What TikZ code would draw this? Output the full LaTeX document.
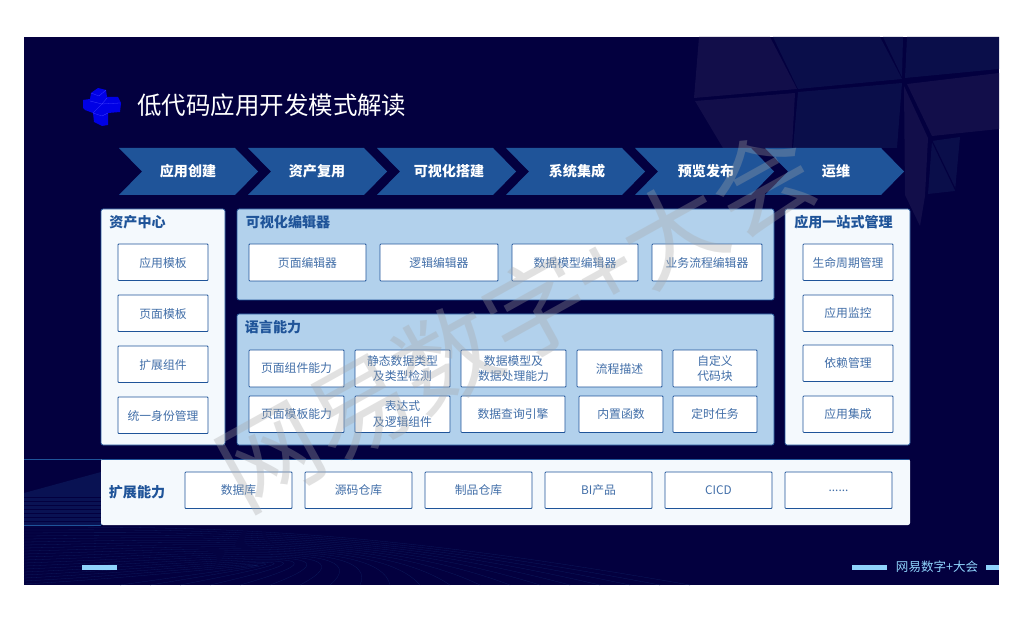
\documentclass[tikz,border=0pt]{standalone}
\usepackage{fontspec}
\setmainfont{Noto Sans CJK SC}
\usepackage{xcolor}
\definecolor{navybg}{HTML}{03003F}
\definecolor{chevblue}{HTML}{1F5499}
\definecolor{panelblue}{HTML}{B2D1EC}
\definecolor{panelwhite}{HTML}{F4F9FD}
\definecolor{linkblue}{HTML}{8FD3FB}
\definecolor{facet}{HTML}{120E4A}
\definecolor{facetb}{HTML}{0A0E4A}
\tikzset{
  chevron/.style={fill=chevblue,draw=none},
  chevtext/.style={text=white,font=\bfseries\fontsize{10}{12}\selectfont},
  panel/.style={fill=panelwhite,draw=chevblue,line width=0.5pt,rounded corners=1.5pt},
  bluepanel/.style={panel,fill=panelblue},
  itembox/.style={fill=white,draw=chevblue,line width=0.6pt,rounded corners=0.6pt},
  itemtext/.style={text=chevblue!85!white,align=center,font=\fontsize{8.4}{11}\selectfont},
  headtext/.style={text=chevblue,font=\bfseries\fontsize{10}{12}\selectfont},
  wave/.style={draw=chevblue!32!navybg,line width=0.2pt},
}
\begin{document}
\begin{tikzpicture}[x=0.025cm,y=-0.025cm]
\useasboundingbox (0,0) rectangle (1024,622);
\fill[white] (0,0) rectangle (1024,622);
\fill[navybg] (24,37) rectangle (999,585);
% faceted shape, top right
\fill[facet] (699,37)--(770,37)--(797,89)--(694,98)--cycle;
\fill[facetb] (773,37)--(880,37)--(902,79)--(798,89)--cycle;
\fill[facetb] (883,37)--(903,37)--(902,77)--cycle;
\fill[facetb] (907,37)--(999,37)--(999,69)--(905,78)--cycle;
\fill[facet] (695,101)--(795,93)--(792,148)--(723,148)--cycle;
\fill[facetb] (798,92)--(902,83)--(897,148)--(793,148)--cycle;
\fill[facet] (907,84)--(999,73)--(999,129)--(932,136)--cycle;
\fill[facet] (904,86)--(928,138)--(925,196)--(920,226)--(905,195)--cycle;
\fill[facetb] (932,141)--(960,137)--(955,191)--(928,194)--cycle;
\draw[navybg,line width=0.8pt] (932,141)--(957,193);
% mesh, lower left
\fill[chevblue!22!navybg] (24,493)--(101,472)--(101,525)--(24,525)--cycle;
\foreach \y in {497,501,...,523}{
  \draw[navybg,line width=0.4pt] (24,\y)--(101,\y);
}
\draw[chevblue] (24,459)--(101,459);
\draw[chevblue] (24,525)--(101,525);
\draw[chevblue] (101,459)--(101,525);
% waves, bottom
\foreach \k in {0,1,...,19}{
  \draw[wave] (24,{527+\k*3}) .. controls (200,{527+\k*2.5}) and ({360+\k*2},{527+\k}) .. ({690-\k*30},585);
}
% process row
\foreach \x/\n/\t/\c in {119/a/应用创建/188,248/b/资产复用/317,377/c/可视化搭建/449,506/d/系统集成/577,635/e/预览发布/706,765/f/运维/836}{
  \fill[chevron] (\x,148)--(\x+116,148)--(\x+139,171.5)--(\x+116,195)--(\x,195)--(\x+23,171.5)--cycle;
  \node[chevtext] (chev\n) at (\c,171.5) {\t};
}
% panels
\draw[panel] (101,209) rectangle (225,445);
\draw[bluepanel] (237,209) rectangle (774,300);
\draw[bluepanel] (237,314) rectangle (774,445);
\draw[panel] (785,209) rectangle (910,445);
\fill[panelwhite,rounded corners=1.5pt] (101,459) rectangle (910,525);
\draw[chevblue,line width=0.5pt] (102,459)--(909,459);
\node[headtext] (assethead) at (137.5,222) {资产中心};
\node[headtext] (edithead) at (288,222) {可视化编辑器};
\node[headtext] (langhead) at (273,327.5) {语言能力};
\node[headtext] (apphead) at (843.5,222.5) {应用一站式管理};
\node[headtext] (exthead) at (137,492) {扩展能力};
% left column
\foreach \y/\n/\t in {244/a/应用模板,295/b/页面模板,346/c/扩展组件,397/d/统一身份管理}{
  \draw[itembox] (118,\y) rectangle (208,\y+36.5);
  \node[itemtext] (asset\n) at (163,\y+19) {\t};
}
% right column
\foreach \y/\n/\t in {244/a/生命周期管理,295/b/应用监控,345/c/依赖管理,396/d/应用集成}{
  \draw[itembox] (803,\y) rectangle (893,\y+36.5);
  \node[itemtext] (app\n) at (848,\y+18.5) {\t};
}
% editors
\foreach \l/\r/\n/\t in {249/366/a/页面编辑器,380/498/b/逻辑编辑器,512/638/c/数据模型编辑器,652/762/d/业务流程编辑器}{
  \draw[itembox] (\l,244) rectangle (\r,281);
  \node[itemtext] (edit\n) at ({(\l+\r)/2},262.5) {\t};
}
% language
\foreach \l/\r/\n/\t in {249/344/a/页面组件能力,355/450/b/{静态数据类型\\及类型检测},461/566/c/{数据模型及\\数据处理能力},577/662/d/流程描述,673/757/e/{自定义\\代码块}}{
  \draw[itembox] (\l,350) rectangle (\r,387);
  \node[itemtext] (langa\n) at ({(\l+\r)/2},368.5) {\t};
}
\foreach \l/\r/\n/\t in {249/344/a/页面模板能力,355/450/b/{表达式\\及逻辑组件},461/565/c/数据查询引擎,579/663/d/内置函数,673/757/e/定时任务}{
  \draw[itembox] (\l,396) rectangle (\r,432.5);
  \node[itemtext] (langb\n) at ({(\l+\r)/2},414) {\t};
}
% extensions
\foreach \l/\n/\t in {185/a/数据库,305/b/源码仓库,425/c/制品仓库,545/d/BI产品,665/e/CICD,785/f/{......}}{
  \draw[itembox] (\l,472) rectangle (\l+107,508.5);
  \node[itemtext] (ext\n) at (\l+53.5,490.5) {\t};
}
% logo
\fill[blue!90!black] (91,93)--(98,88)--(106,90)--(107,97)--(118,97)--(121,103)--(120,112)--(108,113)--(108,125)--(102,126)--(94,122)--(93,113)--(85,110)--(83,108)--(83,100)--(90,99)--cycle;
\draw[blue!75!white,line width=0.2pt] (90,101)--(102,104)--(107,98) (102,104)--(120,103) (102,104)--(93,113)--(102,116)--(108,113) (91,93)--(99,96)--(106,90);
% title
\node[text=white,font=\fontsize{17.4}{20}\selectfont,anchor=west,inner sep=0pt] (title) at (137,105) {低代码应用开发模式解读};
% footer
\fill[linkblue] (82,565) rectangle (117,569.5);
\fill[linkblue] (852,565) rectangle (887,569.5);
\fill[linkblue] (986,565) rectangle (999,569.5);
\node[text=linkblue,font=\fontsize{8.9}{10}\selectfont] (brand) at (937,567) {网易数字+大会};
% watermark
\node[text=black!35,opacity=0.33,rotate=29,font=\fontsize{72}{74}\selectfont] (mark) at (516,319) {网易数字+大会};
\end{tikzpicture}
\end{document}
